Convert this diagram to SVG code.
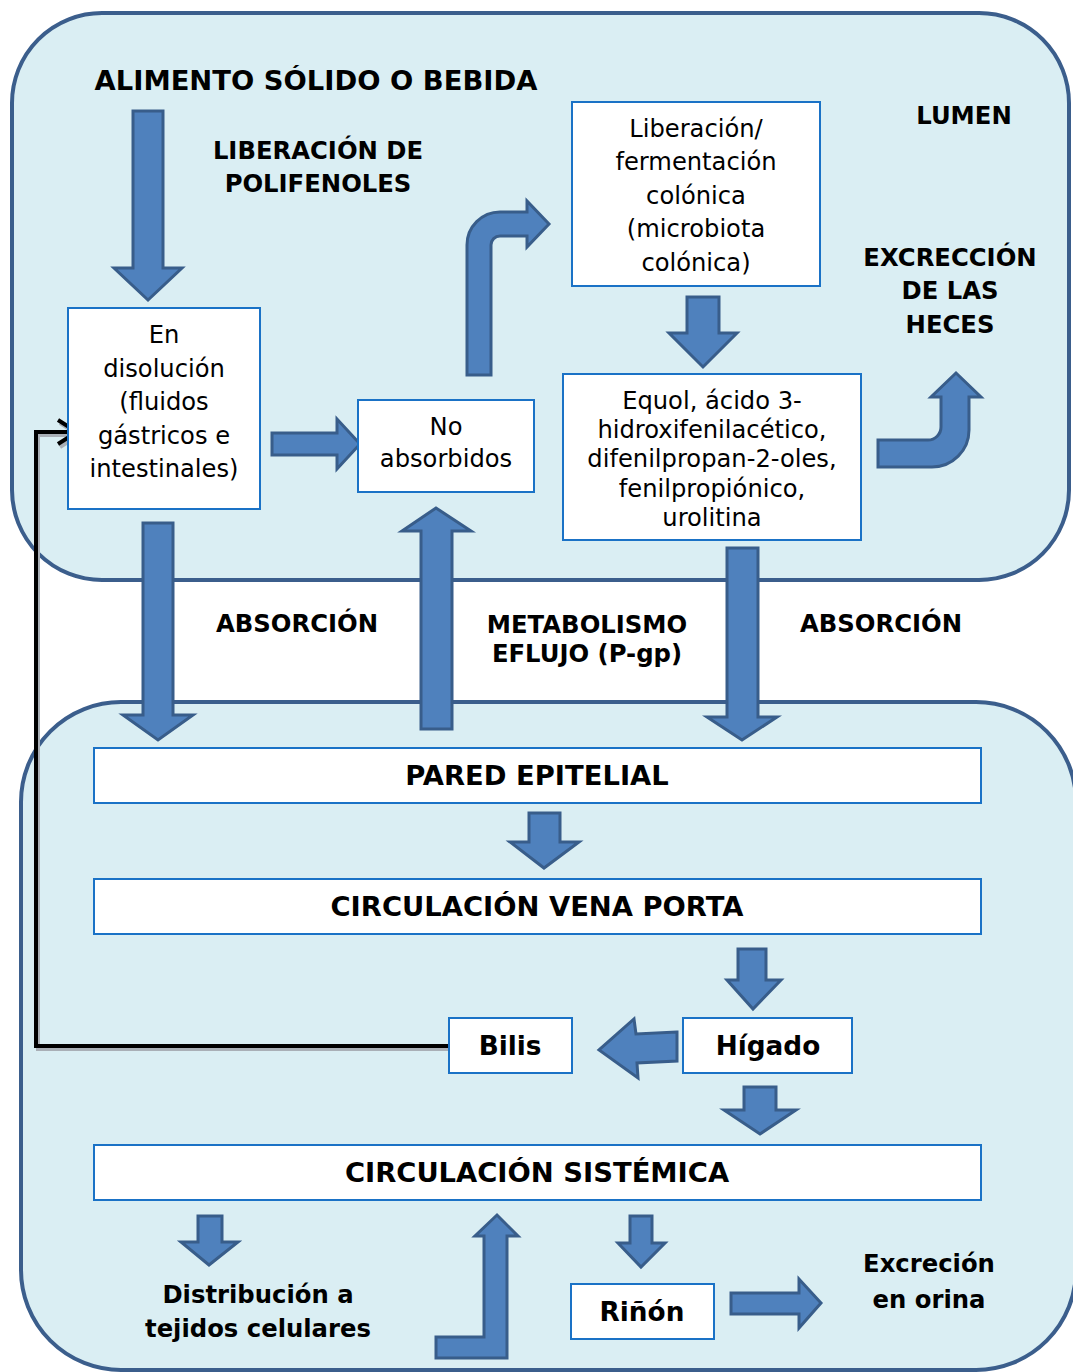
<svg xmlns="http://www.w3.org/2000/svg" width="1073" height="1372" viewBox="0 0 1073 1372">
<style>
.cont{fill:#daeef3;stroke:#3b5e8c;stroke-width:4}
.box{fill:#ffffff;stroke:#1a72c6;stroke-width:2}
.arr{fill:#4f81bd;stroke:#385d8a;stroke-width:3;stroke-linejoin:miter}
.t{font-family:"DejaVu Sans","Verdana",sans-serif;font-size:24.2px;fill:#000;text-anchor:middle}
.b{font-family:"DejaVu Sans","Verdana",sans-serif;font-weight:bold;font-size:24.3px;fill:#000;text-anchor:middle}
.h{font-family:"DejaVu Sans","Verdana",sans-serif;font-weight:bold;font-size:27.4px;fill:#000;text-anchor:middle}
.n{font-family:"DejaVu Sans","Verdana",sans-serif;font-weight:bold;font-size:26.3px;fill:#000;text-anchor:middle}
.ln{fill:none;stroke:#000;stroke-width:4}
.sh{fill:none;stroke:#a9afb6;stroke-width:4}
</style>
<rect width="1073" height="1372" fill="#ffffff"/>
<g id="lumen">
<rect class="cont" x="12" y="13" width="1057" height="567" rx="90" ry="90"/>
</g>
<g id="organismo">
<rect class="cont" x="21" y="702" width="1055" height="668" rx="100" ry="100"/>
</g>
<g id="labels">
<text class="h" x="316" y="90">ALIMENTO SÓLIDO O BEBIDA</text>
<text class="b" x="318" y="159">LIBERACIÓN DE</text>
<text class="b" x="318" y="192">POLIFENOLES</text>
<text class="b" x="964" y="124">LUMEN</text>
<text class="b" x="950" y="266">EXCRECCIÓN</text>
<text class="b" x="950" y="299">DE LAS</text>
<text class="b" x="950" y="333">HECES</text>
<text class="b" x="297" y="632">ABSORCIÓN</text>
<text class="b" x="587" y="633">METABOLISMO</text>
<text class="b" x="587" y="662">EFLUJO (P-gp)</text>
<text class="b" x="881" y="632">ABSORCIÓN</text>
<text class="b" x="258" y="1303">Distribución a</text>
<text class="b" x="258" y="1337">tejidos celulares</text>
<text class="b" x="929" y="1272">Excreción</text>
<text class="b" x="929" y="1308">en orina</text>
</g>
<g id="connectors">
<path class="sh" d="M450,1049 H38 V435 H76"/>
<polyline class="sh" points="60,423 79,435 60,447"/>
<path class="ln" d="M448,1046 H36 V432 H75"/>
<polyline class="ln" points="58,420 77,432 58,444"/>
<path class="arr" d="M133,111 H163 V268 H182 L148,300 L114,268 H133 Z"/>
<path class="arr" d="M272,433 H337 V419 L360,444 L337,469 V455 H272 Z"/>
<path class="arr" d="M467,375 L467,245 A33,33 0 0 1 500,212 L527,212 L527,201 L549,224 L527,247 L527,236 L500,236 A9,9 0 0 0 491,245 L491,375 Z"/>
<path class="arr" d="M687,297 H719 V333 H737 L703,367 L669,333 H687 Z"/>
<path class="arr" d="M878,440 L928,440 A13,13 0 0 0 941,427 L941,397 L931,397 L956,373 L981,397 L969,397 L969,430 A37,37 0 0 1 932,467 L878,467 Z"/>
<path class="arr" d="M143,523 H173 V715 H193 L158,740 L123,715 H143 Z"/>
<path class="arr" d="M421,729 V531 H402 L436,508 L471,531 H452 V729 Z"/>
<path class="arr" d="M727,548 H758 V717 H777 L742,740 L707,717 H727 Z"/>
<path class="arr" d="M529,813 H560 V842 H579 L544,868 L510,842 H529 Z"/>
<path class="arr" d="M738,949 H766 V980 H781 L753,1009 L727,980 H738 Z"/>
<path class="arr" d="M677,1032 L636,1034 L634,1019 L599,1050 L638,1078 L637,1063 L677,1061 Z"/>
<path class="arr" d="M744,1087 H776 V1110 H796 L760,1134 L724,1110 H744 Z"/>
<path class="arr" d="M198,1216 H222 V1242 H238 L209,1265 L181,1242 H198 Z"/>
<path class="arr" d="M436,1337 L484,1337 L484,1236 L475,1236 L497,1215 L518,1236 L507,1236 L507,1358 L436,1358 Z"/>
<path class="arr" d="M630,1216 H652 V1243 H665 L641,1267 L618,1243 H630 Z"/>
<path class="arr" d="M731,1293 H799 V1279 L821,1303 L799,1328 V1314 H731 Z"/>
</g>
<g id="n_disolucion">
<rect class="box" x="68" y="308" width="192" height="201"/>
<text class="t" x="164" y="343">En</text>
<text class="t" x="164" y="376.5">disolución</text>
<text class="t" x="164" y="410">(fluidos</text>
<text class="t" x="164" y="443.5">gástricos e</text>
<text class="t" x="164" y="477">intestinales)</text>
</g>
<g id="n_noabs">
<rect class="box" x="358" y="400" width="176" height="92"/>
<text class="t" x="446" y="435">No</text>
<text class="t" x="446" y="467">absorbidos</text>
</g>
<g id="n_liberacion">
<rect class="box" x="572" y="102" width="248" height="184"/>
<text class="t" x="696" y="137">Liberación/</text>
<text class="t" x="696" y="170">fermentación</text>
<text class="t" x="696" y="204">colónica</text>
<text class="t" x="696" y="237">(microbiota</text>
<text class="t" x="696" y="271">colónica)</text>
</g>
<g id="n_equol">
<rect class="box" x="563" y="374" width="298" height="166"/>
<text class="t" x="712" y="409">Equol, ácido 3-</text>
<text class="t" x="712" y="438">hidroxifenilacético,</text>
<text class="t" x="712" y="467">difenilpropan-2-oles,</text>
<text class="t" x="712" y="497">fenilpropiónico,</text>
<text class="t" x="712" y="526">urolitina</text>
</g>
<g id="n_pared">
<rect class="box" x="94" y="748" width="887" height="55"/>
<text class="h" x="537" y="785">PARED EPITELIAL</text>
</g>
<g id="n_porta">
<rect class="box" x="94" y="879" width="887" height="55"/>
<text class="h" x="537" y="916">CIRCULACIÓN VENA PORTA</text>
</g>
<g id="n_bilis">
<rect class="box" x="449" y="1018" width="123" height="55"/>
<text class="n" x="510" y="1055">Bilis</text>
</g>
<g id="n_higado">
<rect class="box" x="683" y="1018" width="169" height="55"/>
<text class="n" x="768" y="1055">Hígado</text>
</g>
<g id="n_sistemica">
<rect class="box" x="94" y="1145" width="887" height="55"/>
<text class="h" x="537" y="1182">CIRCULACIÓN SISTÉMICA</text>
</g>
<g id="n_rinon">
<rect class="box" x="571" y="1284" width="143" height="55"/>
<text class="n" x="642" y="1321">Riñón</text>
</g>
</svg>
